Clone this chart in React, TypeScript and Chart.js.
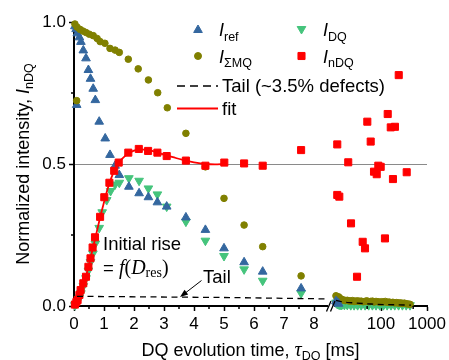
import React, { useEffect, useRef } from 'react';
import { Chart, registerables } from 'chart.js';
import { drawPoint } from 'chart.js/helpers';

Chart.register(...registerables);

// ---------------- data (linear part, 0–8.45 ms) ----------------
const refTime = [0.03, 0.07, 0.09, 0.11, 0.18, 0.23, 0.31, 0.4, 0.48, 0.55, 0.64, 0.71, 0.84, 1.04, 1.2, 1.37, 1.51, 1.83, 2.17, 2.48, 2.78, 3.09, 3.73, 4.38, 5.0, 5.67, 6.29, 7.57];
const refValue = [0.985, 0.975, 0.708, 0.96, 0.946, 0.93, 0.9, 0.872, 0.831, 0.8, 0.765, 0.725, 0.649, 0.59, 0.532, 0.494, 0.461, 0.42, 0.397, 0.383, 0.365, 0.35, 0.312, 0.268, 0.203, 0.154, 0.121, 0.062];

const sigmaMqTime = [0.03, 0.09, 0.1, 0.2, 0.3, 0.4, 0.51, 0.64, 0.77, 0.87, 1.03, 1.2, 1.37, 1.51, 1.81, 2.14, 2.48, 2.79, 3.11, 3.73, 4.38, 5.0, 5.67, 6.29, 7.57];
const sigmaMqValue = [0.993, 0.723, 0.982, 0.974, 0.968, 0.963, 0.957, 0.952, 0.942, 0.931, 0.925, 0.907, 0.901, 0.893, 0.869, 0.835, 0.796, 0.751, 0.698, 0.608, 0.49, 0.379, 0.285, 0.209, 0.106];

const dqTime = [0.03, 0.07, 0.11, 0.18, 0.23, 0.31, 0.4, 0.48, 0.55, 0.63, 0.71, 0.84, 0.94, 1.09, 1.22, 1.37, 1.51, 1.83, 2.17, 2.48, 2.78, 3.09, 3.73, 4.38, 5.0, 5.67, 6.29, 7.57];
const dqValue = [0.003, 0.008, 0.015, 0.03, 0.045, 0.07, 0.098, 0.125, 0.155, 0.185, 0.22, 0.275, 0.33, 0.373, 0.405, 0.428, 0.434, 0.45, 0.441, 0.414, 0.393, 0.35, 0.297, 0.23, 0.176, 0.129, 0.089, 0.045];

const ndqTime = [0.03, 0.08, 0.12, 0.18, 0.22, 0.31, 0.4, 0.48, 0.55, 0.62, 0.7, 0.87, 1.01, 1.18, 1.34, 1.49, 1.81, 2.16, 2.47, 2.78, 3.09, 3.73, 4.38, 5.01, 5.67, 6.29, 7.57];
const ndqValue = [0.005, 0.014, 0.021, 0.039, 0.056, 0.08, 0.103, 0.138, 0.168, 0.206, 0.242, 0.314, 0.383, 0.434, 0.476, 0.505, 0.54, 0.553, 0.546, 0.54, 0.528, 0.512, 0.494, 0.505, 0.502, 0.494, 0.549];

const fitTime = [0, 0.1, 0.2, 0.3, 0.4, 0.5, 0.6, 0.7, 0.8, 0.9, 1.0, 1.1, 1.2, 1.3, 1.4, 1.5, 1.6, 1.8, 2.0, 2.2, 2.4, 2.6, 2.8, 3.0, 3.3, 3.6, 4.0, 4.4, 4.7, 5.0];
const fitValue = [0, 0.008, 0.035, 0.07, 0.105, 0.145, 0.19, 0.235, 0.28, 0.325, 0.365, 0.405, 0.438, 0.466, 0.488, 0.505, 0.518, 0.536, 0.547, 0.551, 0.55, 0.546, 0.54, 0.533, 0.524, 0.515, 0.506, 0.5, 0.499, 0.5];

const tailTime = [0.1, 5.0, 8.45];
const tailValue = [0.034, 0.03, 0.025];

// ---------------- data (log part, 10–1000 ms) ----------------
const ndqLongTime = [11.2, 11.2, 12.4, 19.4, 22.3, 30.1, 40, 44.9, 50.4, 59.7, 70.5, 80.7, 87.4, 98.5, 122, 140, 163, 182, 201, 243, 362];
const ndqLongValue = [0.569, 0.391, 0.385, 0.506, 0.291, 0.103, 0.226, 0.203, 0.649, 0.579, 0.473, 0.464, 0.494, 0.49, 0.238, 0.676, 0.629, 0.447, 0.631, 0.813, 0.471];

const sigmaMqLongTime = [10.5, 11, 11.5, 12, 12.6, 13.2, 14, 15, 16, 17, 18.5, 20, 22, 24, 26, 28, 31, 34, 37, 41, 45, 49, 54, 59, 65, 71, 78, 86, 94, 103, 113, 124, 136, 150, 165, 181, 199, 219, 241, 265, 292, 321, 353, 388, 427];
const sigmaMqLongValue = [0.036, 0.033, 0.03, 0.032, 0.028, 0.025, 0.023, 0.021, 0.02, 0.019, 0.02, 0.018, 0.017, 0.019, 0.016, 0.017, 0.018, 0.016, 0.017, 0.015, 0.016, 0.018, 0.015, 0.016, 0.017, 0.014, 0.016, 0.015, 0.013, 0.015, 0.014, 0.016, 0.013, 0.014, 0.012, 0.013, 0.011, 0.012, 0.01, 0.011, 0.009, 0.01, 0.008, 0.007, 0.006];

const dqLongTime = [10.5, 11, 11.5, 12, 12.6, 13.2, 14, 16, 18.5, 22, 26, 31, 37, 45, 54, 65, 78, 94, 113, 136, 165, 199, 241, 292, 353, 427];
const dqLongValue = [0.012, 0.009, 0.007, 0.006, 0.005, 0.005, 0.004, 0.004, 0.004, 0.003, 0.003, 0.003, 0.003, 0.003, 0.003, 0.003, 0.003, 0.003, 0.003, 0.003, 0.003, 0.003, 0.003, 0.003, 0.003, 0.003];

const refLongTime = [10.5, 11, 11.5, 12];
const refLongValue = [0.017, 0.013, 0.01, 0.008];

const tailLongTime = [10.5, 13, 18, 30, 60, 120, 250, 450];
const tailLongValue = [0.02, 0.016, 0.013, 0.01, 0.007, 0.005, 0.004, 0.003];

// ---------------- ticks ----------------
const linearTicks = [0, 1, 2, 3, 4, 5, 6, 7, 8];
const linearMinorTicks = [0.5, 1.5, 2.5, 3.5, 4.5, 5.5, 6.5, 7.5];
const logTicks = [100, 1000];
const logMinorTicks = [50, 500];
const yTicks = [0, 0.5, 1.0];
const yMinorTicks = [0.25, 0.75];
const referenceLine = 0.5;

const LINEAR_MAX = 8.45;
const LOG_MIN = 10;
const LOG_MAX = 1000;

// ---------------- styles ----------------
const SANS = '"Liberation Sans", Arial, Helvetica, sans-serif';
const SERIF = '"Liberation Serif", "Times New Roman", serif';
const BLUE = '#34679f';
const GREEN = '#45c47c';
const OLIVE = '#808000';
const RED = '#ff0000';

const pts = (xs: number[], ys: number[]) => xs.map((x, i) => ({ x, y: ys[i] }));

type Run = { t: string; font: string; dy?: number };
function runsWidth(ctx: CanvasRenderingContext2D, runs: Run[]) {
  let w = 0;
  for (const r of runs) { ctx.font = r.font; w += ctx.measureText(r.t).width; }
  return w;
}
function drawRuns(ctx: CanvasRenderingContext2D, runs: Run[], x: number, y: number) {
  let cx = x;
  for (const r of runs) {
    ctx.font = r.font;
    ctx.fillText(r.t, cx, y + (r.dy || 0));
    cx += ctx.measureText(r.t).width;
  }
  return cx;
}
function marker(ctx: CanvasRenderingContext2D, style: string, rotation: number, radius: number, color: string, x: number, y: number) {
  ctx.save();
  ctx.fillStyle = color;
  ctx.strokeStyle = color;
  ctx.lineWidth = 1;
  drawPoint(ctx, { pointStyle: style as any, rotation, radius, borderWidth: 1 } as any, x, y);
  ctx.restore();
}

const splitAxisPlugin = {
  id: 'splitAxis',
  afterLayout(chart: any) {
    const ca = chart.chartArea;
    const x = chart.scales.x;
    const x2 = chart.scales.x2;
    x.left = ca.left;
    x.right = ca.left + 253.5;
    x.width = x.right - x.left;
    x2.left = 335;
    x2.right = ca.right;
    x2.width = x2.right - x2.left;
    x2.top = x.top;
    x2.bottom = x.bottom;
    x2.height = x.height;
    x.configure();
    x2.configure();
  },
};

const decorPlugin = {
  id: 'decor',
  afterDraw(chart: any) {
    const ctx: CanvasRenderingContext2D = chart.ctx;
    const ca = chart.chartArea;
    const xs = chart.scales.x;
    const x2s = chart.scales.x2;
    const ys = chart.scales.y;
    ctx.save();
    ctx.strokeStyle = '#000';
    ctx.fillStyle = '#000';

    // minor ticks
    ctx.lineWidth = 1.5;
    ctx.beginPath();
    for (const v of linearMinorTicks) {
      const p = xs.getPixelForValue(v);
      ctx.moveTo(p, ca.bottom); ctx.lineTo(p, ca.bottom + 3);
    }
    for (const v of logMinorTicks) {
      const p = x2s.getPixelForValue(v);
      ctx.moveTo(p, ca.bottom); ctx.lineTo(p, ca.bottom + 3);
    }
    for (const v of yMinorTicks) {
      const p = ys.getPixelForValue(v);
      ctx.moveTo(ca.left, p); ctx.lineTo(ca.left - 3, p);
    }
    ctx.stroke();

    // axis break marks
    ctx.lineWidth = 1.3;
    ctx.beginPath();
    ctx.moveTo(326.5, 311.5); ctx.lineTo(331, 301);
    ctx.moveTo(330.5, 311.5); ctx.lineTo(335, 301);
    ctx.stroke();

    ctx.textBaseline = 'alphabetic';
    ctx.textAlign = 'left';

    // legend
    marker(ctx, 'triangle', 0, 5, BLUE, 198, 30);
    marker(ctx, 'circle', 0, 3.5, OLIVE, 198, 56);
    marker(ctx, 'triangle', 180, 5, GREEN, 301.5, 29);
    marker(ctx, 'rect', 0, 5, RED, 301.5, 56);
    ctx.fillStyle = '#000';
    const I = `italic 18px ${SANS}`;
    const SUB = `12.5px ${SANS}`;
    drawRuns(ctx, [{ t: 'I', font: I }, { t: 'ref', font: SUB, dy: 4.5 }], 219, 36);
    drawRuns(ctx, [{ t: 'I', font: I }, { t: 'ΣMQ', font: SUB, dy: 4.5 }], 219, 62.5);
    drawRuns(ctx, [{ t: 'I', font: I }, { t: 'DQ', font: SUB, dy: 4.5 }], 323, 36);
    drawRuns(ctx, [{ t: 'I', font: I }, { t: 'nDQ', font: SUB, dy: 4.5 }], 323, 62.5);

    ctx.lineWidth = 1.5;
    ctx.setLineDash([8, 5]);
    ctx.beginPath(); ctx.moveTo(177, 86); ctx.lineTo(218, 86); ctx.stroke();
    ctx.setLineDash([]);
    ctx.strokeStyle = RED;
    ctx.lineWidth = 2;
    ctx.beginPath(); ctx.moveTo(177, 108.5); ctx.lineTo(218, 108.5); ctx.stroke();
    ctx.strokeStyle = '#000';
    ctx.font = `18.5px ${SANS}`;
    ctx.fillText('Tail (~3.5% defects)', 222, 91.5);
    ctx.fillText('fit', 222, 114.5);

    // annotations
    ctx.font = `18.5px ${SANS}`;
    ctx.fillText('Initial rise', 103, 249.5);
    drawRuns(ctx, [
      { t: '= ', font: `18.5px ${SANS}` },
      { t: 'f', font: `italic 20px ${SERIF}` },
      { t: '(', font: `20px ${SERIF}` },
      { t: 'D', font: `italic 20px ${SERIF}` },
      { t: 'res', font: `14px ${SERIF}`, dy: 3.5 },
      { t: ')', font: `20px ${SERIF}` },
    ], 103, 273.5);
    ctx.font = `18.5px ${SANS}`;
    ctx.fillText('Tail', 203, 283);
    // arrow
    const ax0 = 201.5, ay0 = 280.5, ax1 = 180, ay1 = 297;
    ctx.lineWidth = 1;
    ctx.beginPath(); ctx.moveTo(ax0, ay0); ctx.lineTo(ax1 + 4, ay1 - 3); ctx.stroke();
    const ang = Math.atan2(ay1 - ay0, ax1 - ax0);
    ctx.beginPath();
    ctx.moveTo(ax1, ay1);
    ctx.lineTo(ax1 - 8 * Math.cos(ang) + 3 * Math.sin(ang), ay1 - 8 * Math.sin(ang) - 3 * Math.cos(ang));
    ctx.lineTo(ax1 - 8 * Math.cos(ang) - 3 * Math.sin(ang), ay1 - 8 * Math.sin(ang) + 3 * Math.cos(ang));
    ctx.closePath();
    ctx.fill();

    // x axis title
    const xRuns: Run[] = [
      { t: 'DQ evolution time, ', font: `18px ${SANS}` },
      { t: 'τ', font: `italic 20px ${SERIF}` },
      { t: 'DQ', font: `12.5px ${SANS}`, dy: 4 },
      { t: ' [ms]', font: `18px ${SANS}` },
    ];
    const xw = runsWidth(ctx, xRuns);
    drawRuns(ctx, xRuns, (ca.left + ca.right) / 2 - xw / 2, 356);

    // y axis title
    const yRuns: Run[] = [
      { t: 'Normalized intensity, ', font: `18px ${SANS}` },
      { t: 'I', font: `italic 18px ${SANS}` },
      { t: 'nDQ', font: `12.5px ${SANS}`, dy: 4.5 },
    ];
    const yw = runsWidth(ctx, yRuns);
    ctx.translate(28.5, (ca.top + ca.bottom) / 2);
    ctx.rotate(-Math.PI / 2);
    drawRuns(ctx, yRuns, -yw / 2, 0);
    ctx.restore();
  },
};

export default function App() {
  const ref = useRef<HTMLCanvasElement>(null);
  useEffect(() => {
    document.body.style.margin = '0';
    const scatter = (label: string, data: any[], axis: string, style: string, color: string, radius: number, order: number, rotation = 0) => ({
      label, data, xAxisID: axis, yAxisID: 'y', showLine: false,
      pointStyle: style, pointRotation: rotation, pointRadius: radius, pointHoverRadius: radius,
      pointBackgroundColor: color, pointBorderColor: color, pointBorderWidth: 1,
      backgroundColor: color, borderColor: color, order, clip: false,
    });
    const line = (label: string, data: any[], axis: string, color: string, width: number, dash: number[], order: number, tension: number) => ({
      label, data, xAxisID: axis, yAxisID: 'y', showLine: true, pointRadius: 0, pointHoverRadius: 0,
      borderColor: color, borderWidth: width, borderDash: dash, tension, fill: false, order, clip: false,
    });
    const chart = new Chart(ref.current!, {
      type: 'scatter',
      data: {
        datasets: [
          line('Tail', pts(tailTime, tailValue), 'x', '#000', 1.3, [6, 4.5], 0, 0),
          line('Tail long', pts(tailLongTime, tailLongValue), 'x2', '#000', 1.3, [6, 4.5], 0, 0),
          scatter('I_nDQ', pts(ndqTime, ndqValue), 'x', 'rect', RED, 5, 1),
          scatter('I_nDQ long', pts(ndqLongTime, ndqLongValue), 'x2', 'rect', RED, 5, 1),
          line('fit', pts(fitTime, fitValue), 'x', RED, 1.8, [], 2, 0.3),
          scatter('I_ref long', pts(refLongTime, refLongValue), 'x2', 'triangle', BLUE, 5, 2.5),
          scatter('I_ΣMQ', pts(sigmaMqTime, sigmaMqValue), 'x', 'circle', OLIVE, 3.3, 3),
          scatter('I_ΣMQ long', pts(sigmaMqLongTime, sigmaMqLongValue), 'x2', 'circle', OLIVE, 3.3, 3),
          scatter('I_ref', pts(refTime, refValue), 'x', 'triangle', BLUE, 5, 4),
          scatter('I_DQ', pts(dqTime, dqValue), 'x', 'triangle', GREEN, 5, 5, 180),
          scatter('I_DQ long', pts(dqLongTime, dqLongValue), 'x2', 'triangle', GREEN, 5, 5, 180),
        ] as any,
      },
      options: {
        responsive: false,
        animation: false,
        devicePixelRatio: 1,
        events: [],
        layout: { padding: { left: 0, top: 22, right: 22, bottom: 0 } },
        plugins: { legend: { display: false }, tooltip: { enabled: false } },
        scales: {
          x: {
            type: 'linear', position: 'bottom', min: 0, max: LINEAR_MAX,
            afterFit: (s: any) => { s.height = 54; },
            afterBuildTicks: (s: any) => { s.ticks = linearTicks.map((v) => ({ value: v })); },
            grid: { display: true, drawOnChartArea: false, drawTicks: true, tickLength: 5, tickColor: '#000', tickWidth: 1.5 },
            border: { display: true, color: '#000', width: 2 },
            ticks: { autoSkip: false, maxRotation: 0, padding: 3, color: '#000', font: { family: SANS, size: 17 }, callback: (v: any) => String(v) },
          },
          x2: {
            type: 'logarithmic', position: 'bottom', min: LOG_MIN, max: LOG_MAX,
            afterFit: (s: any) => { s.height = 0; },
            afterBuildTicks: (s: any) => { s.ticks = logTicks.map((v) => ({ value: v })); },
            grid: { display: true, drawOnChartArea: false, drawTicks: true, tickLength: 5, tickColor: '#000', tickWidth: 1.5 },
            border: { display: true, color: '#000', width: 2 },
            ticks: { autoSkip: false, maxRotation: 0, padding: 3, color: '#000', font: { family: SANS, size: 17 }, callback: (v: any) => String(v) },
          },
          y: {
            type: 'linear', position: 'left', min: 0, max: 1,
            afterFit: (s: any) => { s.width = 74; },
            afterBuildTicks: (s: any) => { s.ticks = yTicks.map((v) => ({ value: v })); },
            grid: {
              display: true, drawOnChartArea: true, drawTicks: true, tickLength: 5, tickColor: '#000', tickWidth: 1.5, lineWidth: 1,
              color: (c: any) => (c.tick && c.tick.value === referenceLine ? '#8a8a8a' : 'rgba(0,0,0,0)'),
            },
            border: { display: true, color: '#000', width: 2 },
            ticks: { padding: 3, color: '#000', font: { family: SANS, size: 17 }, callback: (v: any) => Number(v).toFixed(1) },
          },
        },
      } as any,
      plugins: [splitAxisPlugin, decorPlugin],
    });
    return () => chart.destroy();
  }, []);
  return (
    <div style={{ width: 449, height: 360 }}>
      <canvas ref={ref} width={449} height={360} style={{ display: 'block', width: 449, height: 360 }} />
    </div>
  );
}
